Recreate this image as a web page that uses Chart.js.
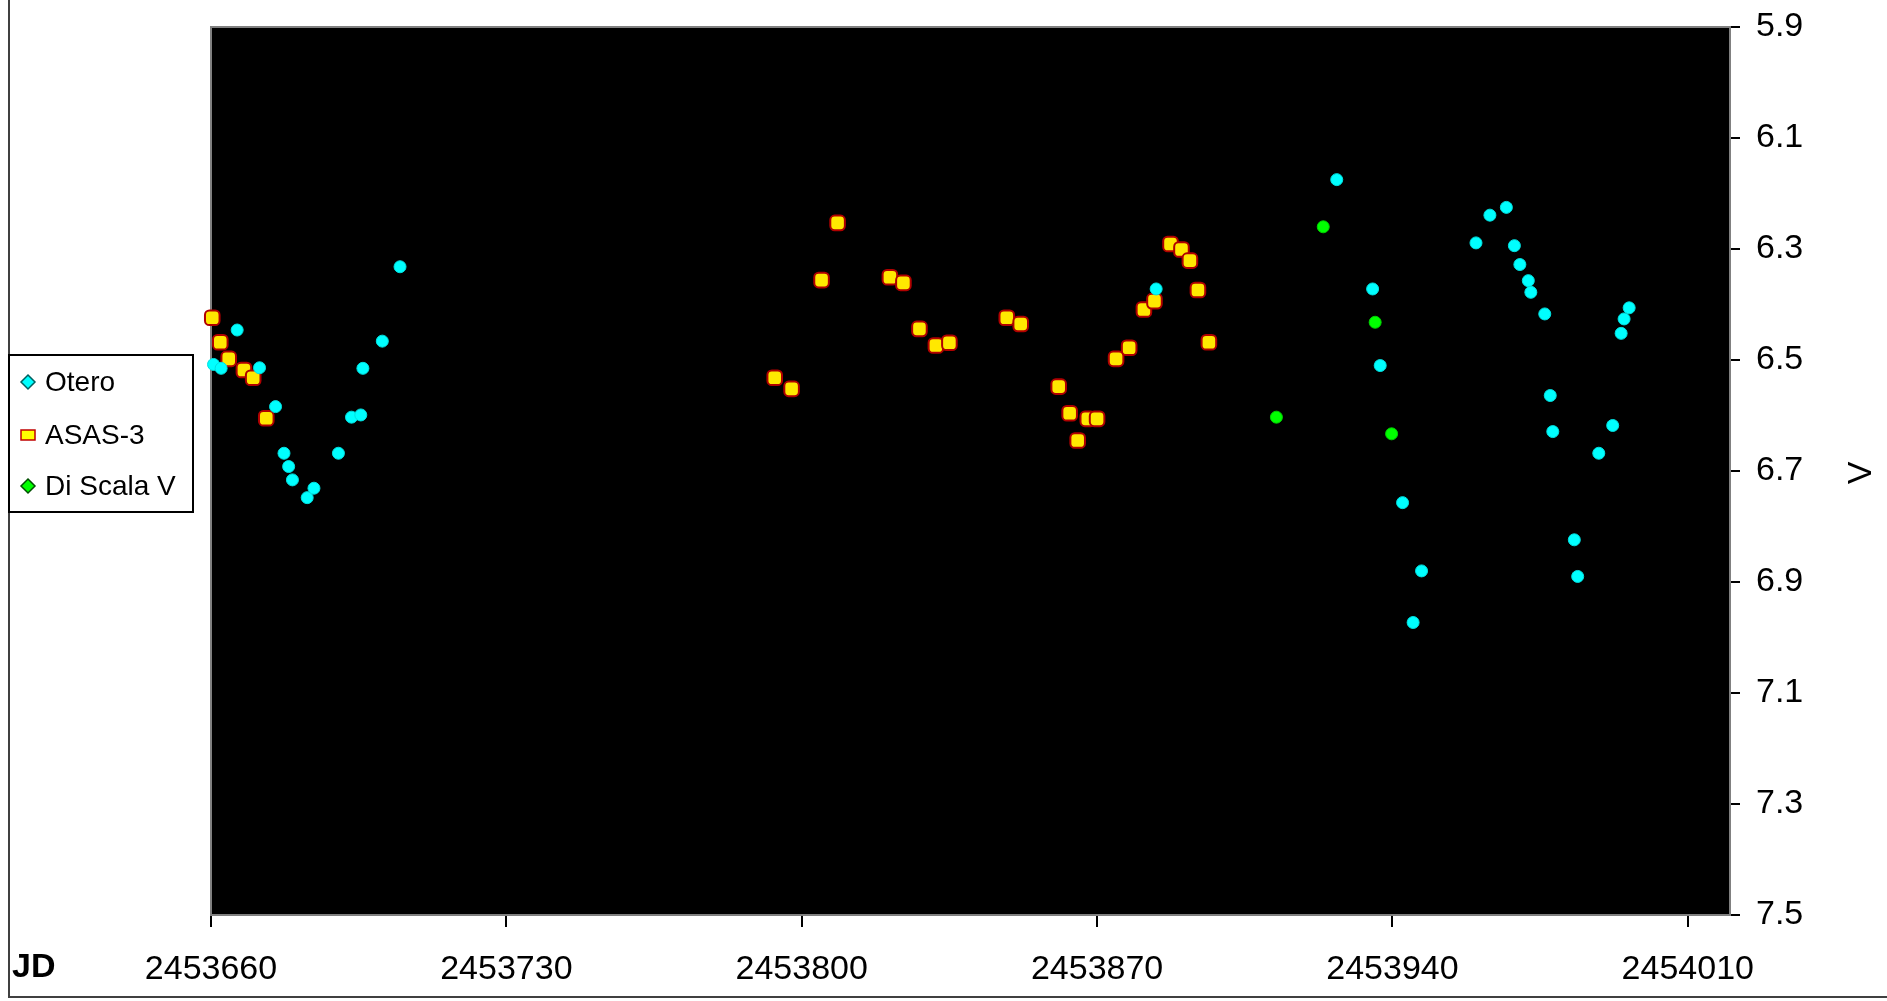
<!DOCTYPE html>
<html>
<head>
<meta charset="utf-8">
<script src="https://cdn.jsdelivr.net/npm/chart.js@4"></script>
<style>
  html, body { margin: 0; padding: 0; background: #fff; }
  #wrap { width: 1887px; height: 1001px; position: relative; }
</style>
</head>
<body>
<div id="wrap"><canvas id="lightCurve"></canvas></div>
<script>
// 데이터 (전체 JD)
const oteroJD = [2453660.6, 2453662.4, 2453666.2, 2453671.5, 2453675.3, 2453677.3, 2453678.4, 2453679.3,
    2453682.8, 2453684.4, 2453690.2, 2453693.3, 2453695.5, 2453696.0, 2453700.6, 2453704.8, 2453884.0,
    2453926.8, 2453935.3, 2453937.1, 2453942.4, 2453944.9, 2453946.9, 2453959.8, 2453963.1, 2453967.0,
    2453968.9, 2453970.2, 2453972.2, 2453972.8, 2453976.1, 2453977.4, 2453978.0, 2453983.1, 2453983.9,
    2453988.9, 2453992.2, 2453994.2, 2453994.9, 2453996.1];
const oteroV = [6.508, 6.515, 6.446, 6.514, 6.584, 6.668, 6.692, 6.716,
    6.748, 6.731, 6.668, 6.603, 6.599, 6.515, 6.466, 6.332, 6.372,
    6.175, 6.372, 6.510, 6.757, 6.973, 6.880, 6.289, 6.239, 6.225,
    6.294, 6.328, 6.357, 6.378, 6.417, 6.564, 6.629, 6.824, 6.890,
    6.668, 6.618, 6.452, 6.426, 6.406];

const asasJD = [2453660.3, 2453662.2, 2453664.2, 2453667.8, 2453670.0, 2453673.1, 2453793.6, 2453797.6,
    2453804.7, 2453808.5, 2453820.9, 2453824.1, 2453827.9, 2453831.8, 2453835.0, 2453848.6, 2453851.9,
    2453860.9, 2453863.5, 2453865.4, 2453867.8, 2453870.0, 2453874.5, 2453877.6, 2453881.1, 2453883.6,
    2453887.4, 2453890.0, 2453892.0, 2453893.9, 2453896.5];
const asasV = [6.424, 6.468, 6.498, 6.518, 6.532, 6.605, 6.532, 6.552,
    6.356, 6.253, 6.351, 6.361, 6.444, 6.474, 6.469, 6.424, 6.435,
    6.548, 6.596, 6.645, 6.606, 6.606, 6.498, 6.478, 6.409, 6.394,
    6.291, 6.301, 6.321, 6.374, 6.468];

const discalaJD = [2453912.5, 2453923.6, 2453935.9, 2453939.8];
const discalaV = [6.603, 6.260, 6.432, 6.633];

// 축 눈금
const xTicks = [2453660, 2453730, 2453800, 2453870, 2453940, 2454010];
const yTicks = [5.9, 6.1, 6.3, 6.5, 6.7, 6.9, 7.1, 7.3, 7.5];

const toPoints = (xs, ys) => xs.map((x, i) => ({ x: x, y: ys[i] }));

Chart.defaults.font.family = "'Liberation Sans', Arial, sans-serif";
Chart.defaults.color = "#000";

// 배경, 테두리, 범례, 축 제목
const framePlugin = {
    id: "frame",
    beforeDraw(chart) {
        const { ctx, chartArea: a } = chart;
        ctx.save();
        ctx.fillStyle = "#fff";
        ctx.fillRect(0, 0, chart.width, chart.height);
        ctx.fillStyle = "#000";
        ctx.fillRect(a.left, a.top, a.right - a.left, a.bottom - a.top);
        ctx.strokeStyle = "#808080";
        ctx.lineWidth = 2;
        ctx.strokeRect(a.left, a.top, a.right - a.left, a.bottom - a.top);
        ctx.restore();
    },
    afterDraw(chart) {
        const ctx = chart.ctx;
        ctx.save();
        // 바깥 테두리 (왼쪽, 아래)
        ctx.strokeStyle = "#404040";
        ctx.lineWidth = 2;
        ctx.beginPath();
        ctx.moveTo(9, 0);
        ctx.lineTo(9, 997);
        ctx.lineTo(chart.width, 997);
        ctx.stroke();

        // JD 라벨
        ctx.fillStyle = "#000";
        ctx.font = "bold 34px 'Liberation Sans', Arial, sans-serif";
        ctx.textBaseline = "middle";
        ctx.textAlign = "left";
        ctx.fillText("JD", 12, 968);

        // V 라벨 (세로)
        ctx.font = "34px 'Liberation Sans', Arial, sans-serif";
        ctx.translate(1862, 473);
        ctx.rotate(-Math.PI / 2);
        ctx.textAlign = "center";
        ctx.fillText("V", 0, 0);
        ctx.setTransform(1, 0, 0, 1, 0, 0);

        // 범례
        ctx.fillStyle = "#fff";
        ctx.fillRect(9, 355, 184, 157);
        ctx.strokeStyle = "#000";
        ctx.lineWidth = 2;
        ctx.strokeRect(9, 355, 184, 157);
        const items = [
            { label: "Otero", fill: "#00FFFF", line: "#006060", shape: "diamond", y: 382 },
            { label: "ASAS-3", fill: "#FFFF00", line: "#C00000", shape: "rect", y: 435 },
            { label: "Di Scala V", fill: "#00FF00", line: "#005000", shape: "diamond", y: 486 },
        ];
        items.forEach((it) => {
            const cx = 28;
            ctx.fillStyle = it.fill;
            ctx.strokeStyle = it.line;
            ctx.lineWidth = 1.5;
            ctx.beginPath();
            if (it.shape === "diamond") {
                ctx.moveTo(cx, it.y - 7);
                ctx.lineTo(cx + 7, it.y);
                ctx.lineTo(cx, it.y + 7);
                ctx.lineTo(cx - 7, it.y);
                ctx.closePath();
            } else {
                ctx.rect(cx - 7, it.y - 5, 14, 10);
            }
            ctx.fill();
            ctx.stroke();
            ctx.fillStyle = "#000";
            ctx.font = "28px 'Liberation Sans', Arial, sans-serif";
            ctx.textAlign = "left";
            ctx.textBaseline = "middle";
            ctx.fillText(it.label, 45, it.y + 1);
        });
        ctx.restore();
    },
};

const ctx = document.getElementById("lightCurve").getContext("2d");
new Chart(ctx, {
    type: "scatter",
    data: {
        datasets: [
            {
                label: "Otero",
                data: toPoints(oteroJD, oteroV),
                clip: false,
                pointStyle: "circle",
                pointRadius: 6,
                pointBackgroundColor: "#00FFFF",
                pointBorderColor: "#00E0E0",
                pointBorderWidth: 1,
            },
            {
                label: "ASAS-3",
                data: toPoints(asasJD, asasV),
                clip: false,
                pointStyle: "rectRounded",
                pointRadius: 8.5,
                pointBackgroundColor: "#FFE800",
                pointBorderColor: "#B00000",
                pointBorderWidth: 2,
            },
            {
                label: "Di Scala V",
                data: toPoints(discalaJD, discalaV),
                pointStyle: "circle",
                pointRadius: 6,
                pointBackgroundColor: "#00FF00",
                pointBorderColor: "#00D000",
                pointBorderWidth: 1,
            },
        ],
    },
    options: {
        responsive: true,
        maintainAspectRatio: false,
        animation: false,
        layout: { padding: { left: 211, top: 27, right: 0, bottom: 0 } },
        plugins: {
            legend: { display: false },
            tooltip: { enabled: false },
        },
        scales: {
            x: {
                type: "linear",
                min: 2453660,
                max: 2454020,
                afterBuildTicks: (s) => { s.ticks = xTicks.map((v) => ({ value: v })); },
                afterFit: (s) => { s.height = 86; s.paddingLeft = 0; s.paddingRight = 0; },
                grid: { drawOnChartArea: false, drawTicks: true, tickLength: 12, color: "#000", lineWidth: 2 },
                border: { color: "#808080", width: 2 },
                ticks: {
                    padding: 22,
                    maxRotation: 0,
                    font: { size: 34 },
                    callback: (v) => String(v),
                },
            },
            y: {
                type: "linear",
                position: "right",
                reverse: true,
                min: 5.9,
                max: 7.5,
                afterBuildTicks: (s) => { s.ticks = yTicks.map((v) => ({ value: v })); },
                afterFit: (s) => { s.width = 157; s.paddingTop = 0; s.paddingBottom = 0; },
                grid: { drawOnChartArea: false, drawTicks: true, tickLength: 10, color: "#000", lineWidth: 2 },
                border: { color: "#808080", width: 2 },
                ticks: {
                    padding: 16,
                    font: { size: 34 },
                    callback: (v) => v.toFixed(1),
                },
            },
        },
    },
    plugins: [framePlugin],
});
</script>
</body>
</html>
